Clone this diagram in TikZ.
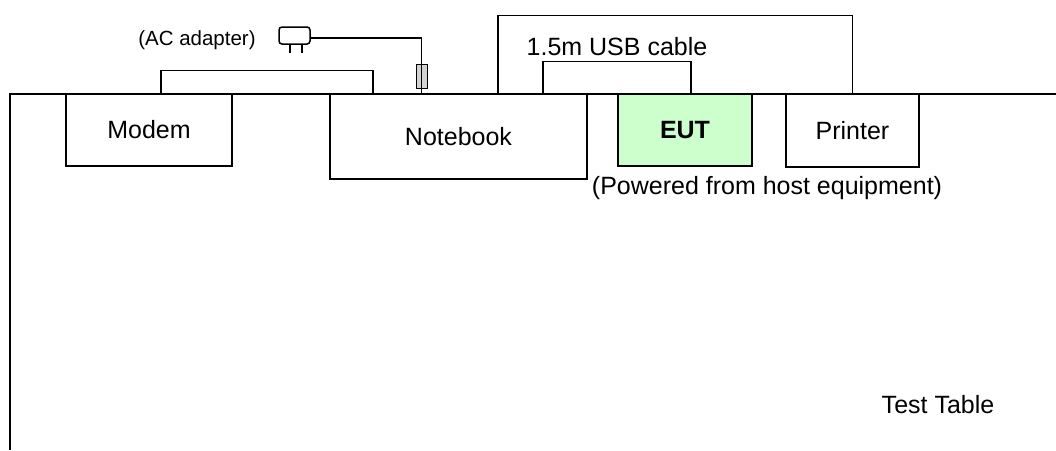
\documentclass[tikz,border=0pt]{standalone}
\usepackage{fontspec}
\setmainfont{Liberation Sans}
\usetikzlibrary{positioning}

\begin{document}
\begin{tikzpicture}[x=1pt,y=-1pt,line width=1.5pt,
    font=\fontsize{25}{30}\selectfont,
    unit/.style={draw,inner sep=0pt},
    small/.style={font=\fontsize{20.5}{24}\selectfont}]
  \useasboundingbox (0,0) rectangle (1056,450);
  % test table
  \draw (1056,94) -| (10,450);
  \node (table) at (938,405) {Test Table};
  % units on the table
  \node[unit,minimum width=166pt,minimum height=72pt] (modem) at (149,130) {Modem};
  \node[unit,minimum width=257pt,minimum height=85pt] (notebook) at (458.5,136.5) {Notebook};
  \node[unit,fill={rgb,255:red,204;green,255;blue,204},minimum width=134pt,minimum height=72pt,
        font=\fontsize{25}{30}\selectfont\bfseries] (eut) at (685,130) {EUT};
  \node[unit,minimum width=133pt,minimum height=73pt] (printer) at (852.5,130.5) {Printer};
  \node (power) at (767,188) {(Powered from host equipment)};
  % cables
  \draw ([xshift=12pt]modem.north) -- ++(0,-23) -| ([xshift=-85.5pt]notebook.north);
  \draw ([xshift=39.5pt]notebook.north) -- ++(0,-78) -| (printer.north);
  \draw ([xshift=84.5pt]notebook.north) -- ++(0,-32)
    -- node[above=1pt] (usb) {1.5m USB cable} ++(148,0) -- ([xshift=6pt]eut.north);
  % AC adapter
  \node[small] (aclbl) at (197,40) {(AC adapter)};
  \node[draw,rounded corners=3pt,minimum width=31pt,minimum height=17pt,inner sep=0pt] (adapter) at (294.5,35.5) {};
  \draw ([xshift=-4.5pt]adapter.south) -- ++(0,8);
  \draw ([xshift=7.5pt]adapter.south) -- ++(0,8);
  \node[draw,fill=gray!35,line width=1pt,minimum width=11pt,minimum height=24pt,inner sep=0pt] (ferrite) at (421.5,76) {};
  \draw ([yshift=-2.5pt]adapter.east) -| (ferrite.north);
  \draw (ferrite.north) -- (ferrite.south) -- ++(0,6);
\end{tikzpicture}
\end{document}
